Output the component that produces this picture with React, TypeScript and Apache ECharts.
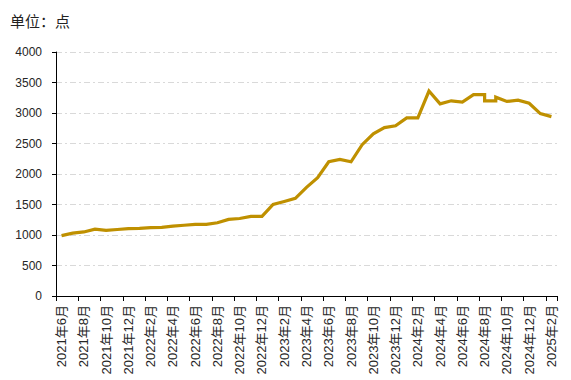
import React, { useEffect, useRef } from "react";
import * as echarts from "echarts";

const months: string[] = [
  "2021年6月", "2021年7月", "2021年8月", "2021年9月", "2021年10月", "2021年11月", "2021年12月",
  "2022年1月", "2022年2月", "2022年3月", "2022年4月", "2022年5月", "2022年6月", "2022年7月",
  "2022年8月", "2022年9月", "2022年10月", "2022年11月", "2022年12月",
  "2023年1月", "2023年2月", "2023年3月", "2023年4月", "2023年5月", "2023年6月", "2023年7月",
  "2023年8月", "2023年9月", "2023年10月", "2023年11月", "2023年12月",
  "2024年1月", "2024年2月", "2024年3月", "2024年4月", "2024年5月", "2024年6月", "2024年7月",
  "2024年8月", "2024年9月", "2024年10月", "2024年11月", "2024年12月",
  "2025年1月", "2025年2月",
];

// Each point of the line: its month and its value (a month may hold two points)
const pointMonths: string[] = [
  "2021年6月", "2021年7月", "2021年8月", "2021年9月", "2021年10月", "2021年11月", "2021年12月",
  "2022年1月", "2022年2月", "2022年3月", "2022年4月", "2022年5月", "2022年6月", "2022年7月",
  "2022年8月", "2022年9月", "2022年10月", "2022年11月", "2022年12月",
  "2023年1月", "2023年2月", "2023年3月", "2023年4月", "2023年5月", "2023年6月", "2023年7月",
  "2023年8月", "2023年9月", "2023年10月", "2023年11月", "2023年12月",
  "2024年1月", "2024年2月", "2024年3月", "2024年4月", "2024年5月", "2024年6月", "2024年7月",
  "2024年8月", "2024年8月", "2024年9月", "2024年9月", "2024年10月", "2024年11月", "2024年12月",
  "2025年1月", "2025年2月",
];
const pointValues: number[] = [
  990, 1030, 1050, 1095, 1075, 1090, 1105,
  1110, 1120, 1125, 1145, 1160, 1175, 1175,
  1200, 1255, 1270, 1305, 1305,
  1500, 1550, 1600, 1780, 1940, 2200, 2240,
  2200, 2480, 2660, 2760, 2790,
  2920, 2920, 3360, 3150, 3200, 3180, 3300,
  3300, 3200, 3200, 3260, 3190, 3210, 3160,
  2990, 2940,
];

const yTicks = { min: 0, max: 4000, interval: 500 };
const unitLabel = "单位：点";

const FONT = "'Liberation Sans', 'Noto Sans CJK SC', sans-serif";

export default function App() {
  const ref = useRef<HTMLDivElement>(null);
  useEffect(() => {
    if (!ref.current) return;
    const chart = echarts.init(ref.current, undefined, { renderer: "svg" });
    const data = pointMonths.map((m, i) => [m, pointValues[i]]);
    chart.setOption({
      animation: false,
      backgroundColor: "#ffffff",
      graphic: [
        {
          type: "text",
          left: 10,
          top: 13,
          style: {
            text: unitLabel,
            font: `15px 'Noto Sans CJK SC', sans-serif`,
            fill: "#222",
          },
        },
      ],
      grid: { left: 56, right: 14, top: 52, bottom: 84, containLabel: false },
      xAxis: {
        type: "category",
        data: months,
        boundaryGap: true,
        axisLine: { show: true, lineStyle: { color: "#000", width: 1 } },
        axisTick: { show: true, interval: 1, length: 5, lineStyle: { color: "#000" } },
        axisLabel: {
          interval: 1,
          rotate: 90,
          fontSize: 13,
          fontFamily: FONT,
          color: "#262626",
          margin: 9,
        },
        splitLine: { show: false },
      },
      yAxis: {
        type: "value",
        min: yTicks.min,
        max: yTicks.max,
        interval: yTicks.interval,
        axisLine: { show: true, lineStyle: { color: "#000", width: 1 } },
        axisTick: { show: true, length: 4, lineStyle: { color: "#000" } },
        axisLabel: {
          fontSize: 12,
          fontFamily: FONT,
          color: "#262626",
          margin: 14,
          formatter: (v: number) => String(v),
        },
        splitLine: {
          show: true,
          lineStyle: { color: "#d9d9d9", width: 1, type: [6, 3, 2, 3] },
        },
      },
      series: [
        {
          type: "line",
          data,
          symbol: "none",
          lineStyle: { color: "#BF9000", width: 3.2, join: "miter" },
          itemStyle: { color: "#BF9000" },
        },
      ],
    });
    return () => chart.dispose();
  }, []);
  return (
    <div
      ref={ref}
      style={{ position: "fixed", left: 0, top: 0, width: 571, height: 380, background: "#fff" }}
    />
  );
}
